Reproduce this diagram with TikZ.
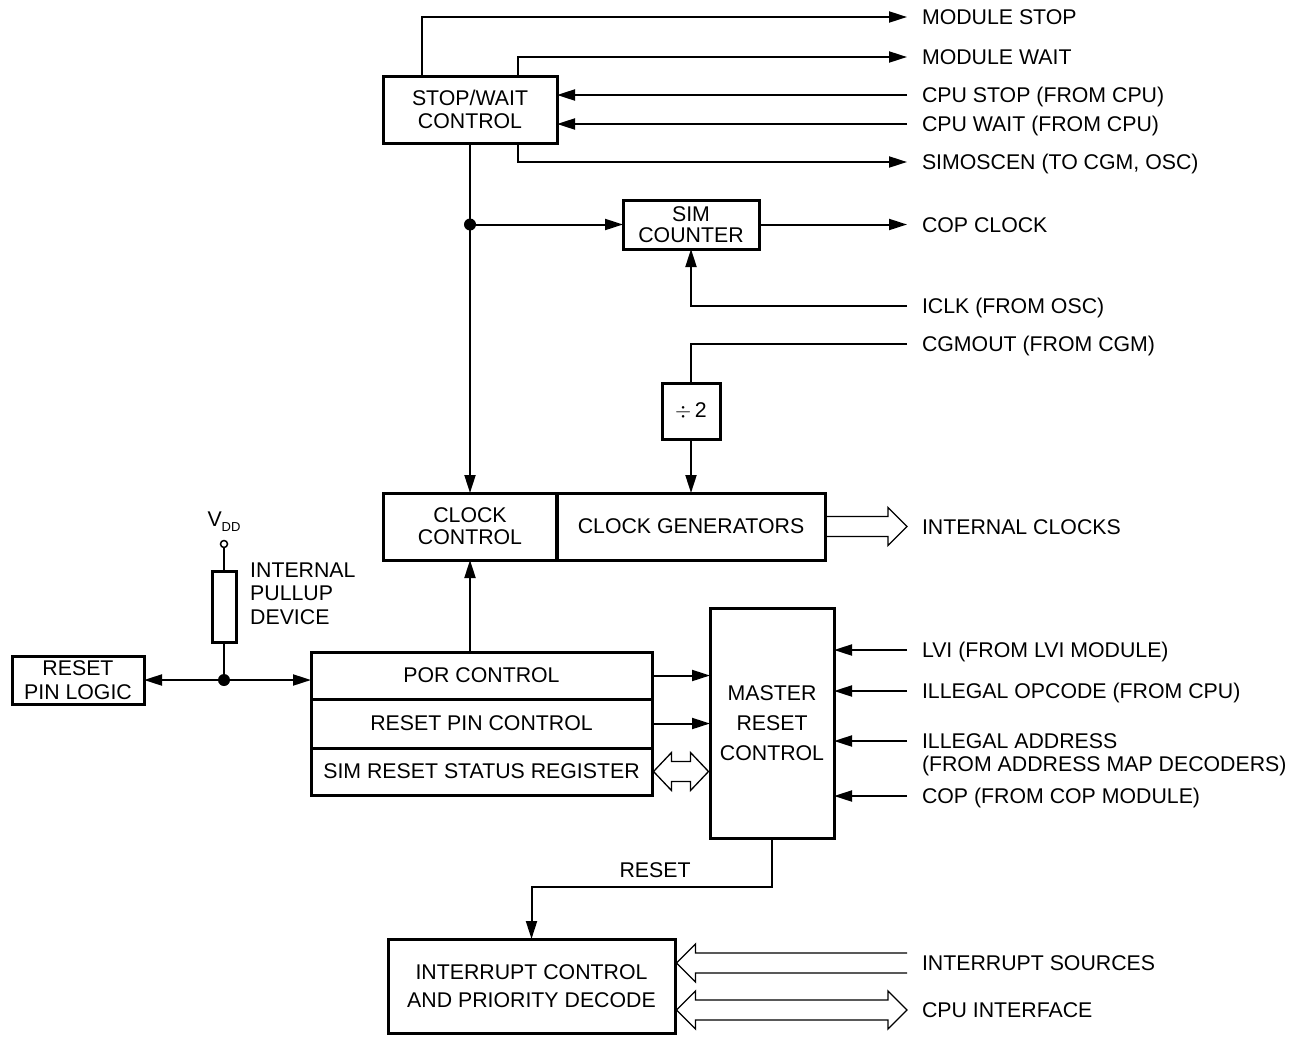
\documentclass[tikz,border=0pt]{standalone}
\usepackage{fontspec}
\setmainfont{Liberation Sans}
\usetikzlibrary{arrows.meta,calc}
\begin{document}
\begin{tikzpicture}[x=1pt,y=-1pt,
 blk/.style={draw, line width=3pt, inner sep=0pt, outer sep=0pt, align=center, font=\fontsize{21.3}{23.5}\selectfont},
 lab/.style={anchor=west, inner sep=0pt, outer sep=0pt, text height=15pt, text depth=0pt, font=\fontsize{21.3}{23.5}\selectfont},
 con/.style={line width=2pt},
 arr/.style={con, -{Triangle[length=18pt,width=11pt]}},
 hol/.style={line width=1.3pt, line join=miter},
 jdot/.style={circle, fill, inner sep=0pt, minimum size=12pt}
]
\useasboundingbox (0,0) rectangle (1295,1036);

% blocks
\node[blk, minimum width=174pt, minimum height=67pt] (sw) at (470,109.5) {STOP/WAIT\\CONTROL};
\node[blk, minimum width=136pt, minimum height=49pt, font=\fontsize{21.3}{21.5}\selectfont] (simc) at (691,224.5) {SIM\\COUNTER};
\node[blk, minimum width=58pt, minimum height=56pt] (div2) at (691,411) {$\div$\,2};
\node[blk, minimum width=174pt, minimum height=67pt, font=\fontsize{21.3}{22}\selectfont] (cc) at (470,526.5) {CLOCK\\CONTROL};
\node[blk, minimum width=269pt, minimum height=67pt] (cg) at (691,526.5) {CLOCK GENERATORS};
\node[blk, minimum width=341pt, minimum height=47pt] (por) at (481.5,675.5) {POR CONTROL};
\node[blk, minimum width=341pt, minimum height=49pt] (rpc) at (481.5,723.5) {RESET PIN CONTROL};
\node[blk, minimum width=341pt, minimum height=47pt] (srs) at (481.5,771.5) {SIM RESET STATUS REGISTER};
\node[blk, minimum width=124pt, minimum height=230pt, font=\fontsize{21.3}{30}\selectfont] (mrc) at (772,723) {MASTER\\RESET\\CONTROL};
\node[blk, minimum width=132pt, minimum height=48pt] (rpl) at (78,680) {RESET\\PIN LOGIC};
\node[blk, minimum width=287pt, minimum height=94pt, font=\fontsize{21.3}{28}\selectfont] (icd) at (531.5,986) {INTERRUPT CONTROL\\AND PRIORITY DECODE};
\node[draw, line width=3pt, inner sep=0pt, minimum width=24pt, minimum height=71pt] (res) at (224,606.5) {};
\node[circle, draw, line width=1.5pt, inner sep=0pt, minimum size=7pt] (vdd) at (224,544) {};
\node[inner sep=0pt, font=\fontsize{21.3}{23.5}\selectfont] (vddl) at (224,522) {V\raisebox{-5pt}{\fontsize{13}{13}\selectfont DD}};
\node[anchor=north west, inner sep=0pt, align=left, font=\fontsize{21.3}{23.5}\selectfont] (pu) at (250,562.5) {INTERNAL\\PULLUP\\DEVICE};
\node[inner sep=0pt, font=\fontsize{21.3}{23.5}\selectfont] (rl) at (655,870) {RESET};

% labels
\node[lab] (ms) at (922,17) {MODULE STOP};
\node[lab] (mw) at (922,57) {MODULE WAIT};
\node[lab] (cs) at (922,95) {CPU STOP (FROM CPU)};
\node[lab] (cw) at (922,124) {CPU WAIT (FROM CPU)};
\node[lab] (sim) at (922,162) {SIMOSCEN (TO CGM, OSC)};
\node[lab] (copc) at (922,224.5) {COP CLOCK};
\node[lab] (iclk) at (922,306) {ICLK (FROM OSC)};
\node[lab] (cgm) at (922,344) {CGMOUT (FROM CGM)};
\node[lab] (ic) at (922,526.5) {INTERNAL CLOCKS};
\node[lab] (lvi) at (922,650) {LVI (FROM LVI MODULE)};
\node[lab] (iop) at (922,691) {ILLEGAL OPCODE (FROM CPU)};
\node[lab] (ia) at (922,741) {ILLEGAL ADDRESS};
\node[lab] (iad) at (922,764) {(FROM ADDRESS MAP DECODERS)};
\node[lab] (cop) at (922,796) {COP (FROM COP MODULE)};
\node[lab] (isrc) at (922,963) {INTERRUPT SOURCES};
\node[lab] (cpui) at (922,1010) {CPU INTERFACE};

% stop/wait connections
\draw[arr] ([xshift=-48pt]sw.north) |- ([xshift=-15pt]ms.west);
\draw[arr] ([xshift=48pt]sw.north) |- ([xshift=-15pt]mw.west);
\draw[arr] ([xshift=-15pt]cs.west) -- (sw.east |- cs.west);
\draw[arr] ([xshift=-15pt]cw.west) -- (sw.east |- cw.west);
\draw[arr] ([xshift=48pt]sw.south) |- ([xshift=-15pt]sim.west);
\draw[arr] (sw.south) -- (cc.north);
\coordinate (j1) at (sw.south |- simc.west);
\node[jdot] at (j1) {};
\draw[arr] (j1) -- (simc.west);
\draw[arr] (simc.east) -- ([xshift=-15pt]copc.west);
\draw[arr] ([xshift=-15pt]iclk.west) -| (simc.south);
\draw[con] ([xshift=-15pt]cgm.west) -| (div2.north);
\draw[arr] (div2.south) -- (cg.north);

% internal clocks hollow arrow
\draw[hol] let \p1=(cg.east), \p2=([xshift=-15pt]ic.west) in
 (\x1,\y1+10pt) -- (\x2-19pt,\y1+10pt) -- (\x2-19pt,\y1+19pt) -- (\x2,\y1) -- (\x2-19pt,\y1-19pt) -- (\x2-19pt,\y1-10pt) -- (\x1,\y1-10pt);

% pullup and reset pin
\draw[line width=1.5pt] (vdd) -- (res.north);
\coordinate (j2) at (res.south |- rpl.east);
\draw[con] (res.south) -- (j2);
\node[jdot] at (j2) {};
\draw[arr] (j2) -- (rpl.east);
\draw[arr] (j2) -- (por.west |- j2);
\draw[arr] (cc.south |- por.north) -- (cc.south);

% por to master reset
\draw[arr] (por.east) -- (mrc.west |- por.east);
\draw[arr] (rpc.east) -- (mrc.west |- rpc.east);
\draw[hol] let \p1=(srs.east), \p2=(mrc.west) in
 (\x1+1.5pt,\y1) -- (\x1+19.5pt,\y1+19pt) -- (\x1+19.5pt,\y1+10pt) -- (\x2-19.5pt,\y1+10pt) -- (\x2-19.5pt,\y1+19pt) -- (\x2-1.5pt,\y1) -- (\x2-19.5pt,\y1-19pt) -- (\x2-19.5pt,\y1-10pt) -- (\x1+19.5pt,\y1-10pt) -- (\x1+19.5pt,\y1-19pt) -- cycle;

% inputs to master reset
\draw[arr] ([xshift=-15pt]lvi.west) -- (mrc.east |- lvi.west);
\draw[arr] ([xshift=-15pt]iop.west) -- (mrc.east |- iop.west);
\draw[arr] ([xshift=-15pt]ia.west) -- (mrc.east |- ia.west);
\draw[arr] ([xshift=-15pt]cop.west) -- (mrc.east |- cop.west);

% reset to interrupt
\draw[arr] (mrc.south) |- ([yshift=52pt]icd.north) -- (icd.north);

% interrupt hollow arrows
\draw[hol] let \p1=([xshift=-15pt]isrc.west), \p2=(icd.east) in
 (\x1,\y1+10pt) -- (\x2+20.5pt,\y1+10pt) -- (\x2+20.5pt,\y1+19pt) -- (\x2+1.5pt,\y1) -- (\x2+20.5pt,\y1-19pt) -- (\x2+20.5pt,\y1-10pt) -- (\x1,\y1-10pt);
\draw[hol] let \p1=(icd.east), \p2=([xshift=-15pt]cpui.west) in
 (\x1+1.5pt,\y2) -- (\x1+20.5pt,\y2+19pt) -- (\x1+20.5pt,\y2+10pt) -- (\x2-19pt,\y2+10pt) -- (\x2-19pt,\y2+19pt) -- (\x2,\y2) -- (\x2-19pt,\y2-19pt) -- (\x2-19pt,\y2-10pt) -- (\x1+20.5pt,\y2-10pt) -- (\x1+20.5pt,\y2-19pt) -- cycle;
\end{tikzpicture}
\end{document}
